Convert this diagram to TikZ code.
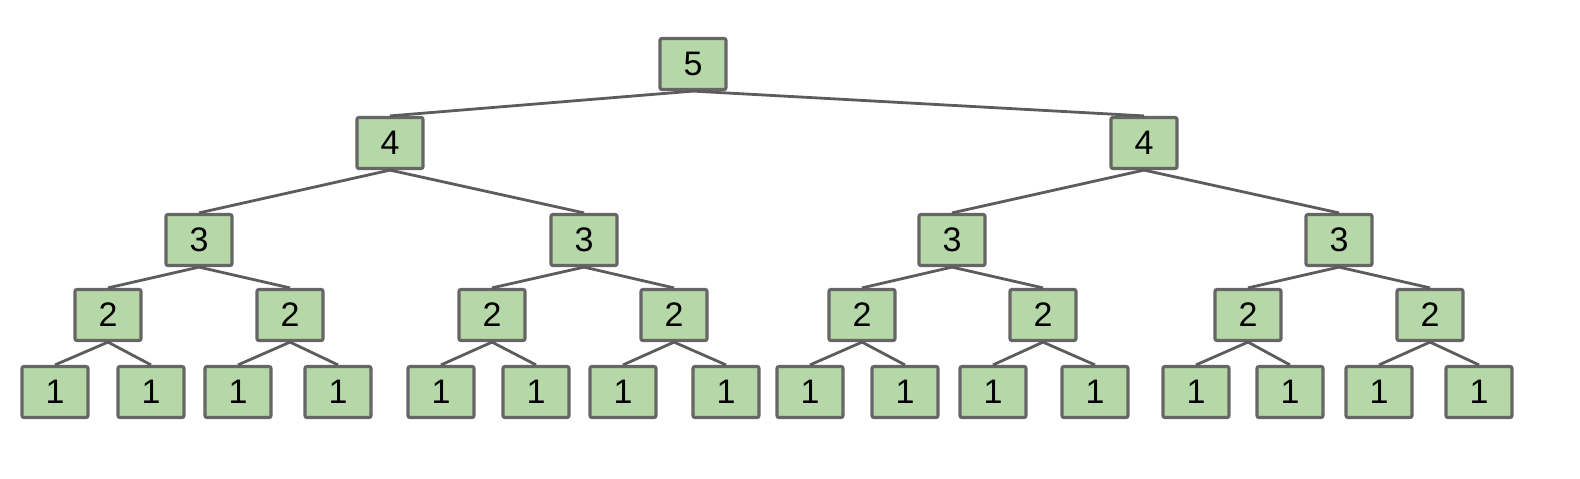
\documentclass[tikz,border=0pt]{standalone}
\usepackage{fontspec}
\setmainfont{Liberation Sans}
\usepackage{tikz}
\usetikzlibrary{positioning}
\definecolor{boxgreen}{HTML}{B6D7A8}
\definecolor{boxgray}{HTML}{666666}
\tikzset{
every picture/.style={line width=0.8pt},
%%%%%%%%%%  Node styles
numbox/.style={rectangle, rounded corners=1pt, fill=boxgreen, draw=boxgray,
               line width=1.6pt, minimum width=33pt, minimum height=25.5pt,
               inner sep=0pt, font=\fontsize{17}{19}\selectfont},
%%%% line styles
treeedge/.style={line width=1.4pt, draw=boxgray!90!black},
}

\begin{document}
\begin{tikzpicture}[x=0.5pt, y=-0.5pt]
\useasboundingbox (0,0) rectangle (1580,478);
%% top level
\node[numbox] (k5) at (693,64) {5};
\node[numbox] (k4-1) at (390,143) {4};
\node[numbox] (k4-2) at (1144,143) {4};
%% middle levels
\foreach \x [count=\i] in {199,584,952,1339}
  \node[numbox] (k3-\i) at (\x,240) {3};
\foreach \x [count=\i] in {108,290,492,674,862,1043,1248,1430}
  \node[numbox] (k2-\i) at (\x,315) {2};
%% leaves
\foreach \x [count=\i] in {55,151,238,338,441,536,623,726,810,905,993,1095,1196,1290,1379,1479}
  \node[numbox] (k1-\i) at (\x,392) {1};
%% edges
\draw[treeedge] (k5.south) -- (k4-1.north);
\draw[treeedge] (k5.south) -- (k4-2.north);
\foreach \i in {1,...,4}{
  \pgfmathtruncatemacro\j{(\i+1)/2}
  \draw[treeedge] (k4-\j.south) -- (k3-\i.north);
}
\foreach \i in {1,...,8}{
  \pgfmathtruncatemacro\j{(\i+1)/2}
  \draw[treeedge] (k3-\j.south) -- (k2-\i.north);
}
\foreach \i in {1,...,16}{
  \pgfmathtruncatemacro\j{(\i+1)/2}
  \draw[treeedge] (k2-\j.south) -- (k1-\i.north);
}
\end{tikzpicture}
\end{document}
